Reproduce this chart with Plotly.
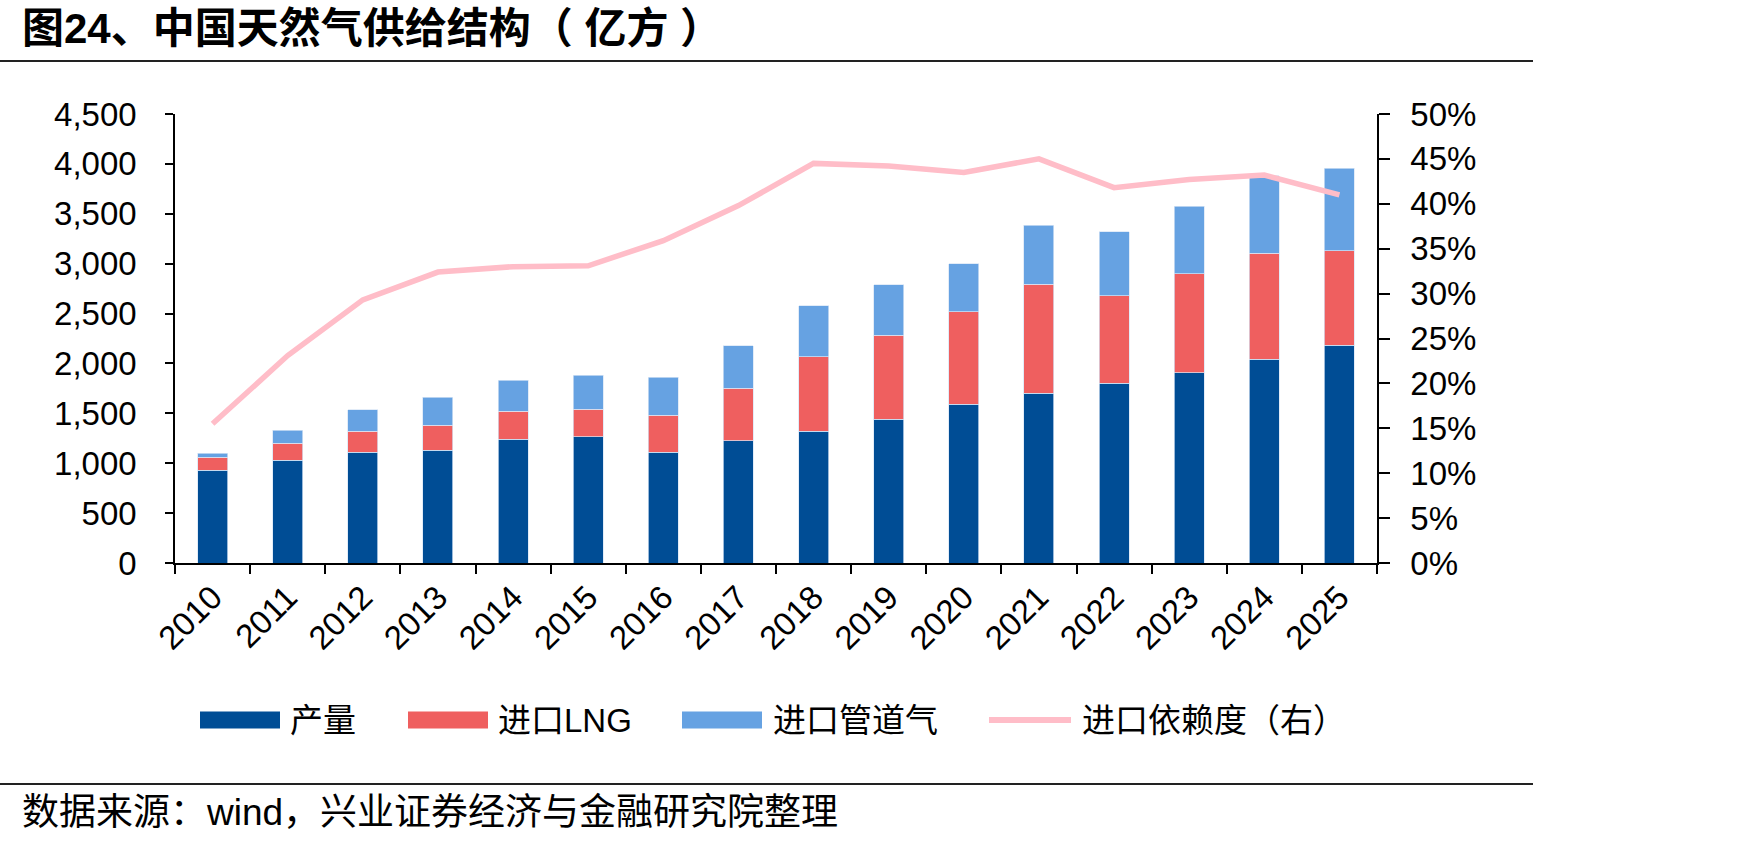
import plotly.graph_objects as go

years = ["2010", "2011", "2012", "2013", "2014", "2015", "2016", "2017",
         "2018", "2019", "2020", "2021", "2022", "2023", "2024", "2025"]
production = [928, 1028, 1108, 1128, 1239, 1265, 1108, 1225,
              1319, 1439, 1589, 1699, 1800, 1907, 2040, 2181]
lng_import = [130, 174, 211, 251, 280, 274, 371, 525,
              748, 842, 929, 1093, 881, 992, 1066, 951]
pipe_import = [44, 131, 217, 284, 314, 341, 384, 427,
               511, 508, 481, 591, 639, 674, 774, 822]
dependence = [0.155, 0.231, 0.293, 0.324, 0.330, 0.331, 0.359, 0.398,
              0.445, 0.442, 0.435, 0.450, 0.418, 0.427, 0.432, 0.410]

C_PROD = "#004D95"
C_LNG = "#EF5F5F"
C_PIPE = "#66A2E2"
C_LINE = "#FFBDC8"

W, H = 1748, 845
PL, PR, PT, PB = 175, 1377, 114, 563


def px(x):
    return (x - PL) / (PR - PL)


def py(y):
    return (PB - y) / (PB - PT)


LATIN_CJK = "Liberation Sans, Arial, Noto Sans CJK SC"

fig = go.Figure()
edge = dict(color="rgba(215,228,245,0.9)", width=0.8)
fig.add_trace(go.Bar(x=years, y=production, name="产量", marker=dict(color=C_PROD, line=edge)))
fig.add_trace(go.Bar(x=years, y=lng_import, name="进口LNG", marker=dict(color=C_LNG, line=edge)))
fig.add_trace(go.Bar(x=years, y=pipe_import, name="进口管道气", marker=dict(color=C_PIPE, line=edge)))
fig.add_trace(go.Scatter(x=years, y=dependence, name="进口依赖度（右）", yaxis="y2",
                         mode="lines", line=dict(color=C_LINE, width=5.5)))

axis_font = dict(family=LATIN_CJK, size=33, color="#000000")

fig.update_layout(
    width=W, height=H, autosize=False,
    margin=dict(l=PL, r=W - PR, t=PT, b=H - PB, pad=0),
    paper_bgcolor="white", plot_bgcolor="white",
    barmode="stack", bargap=0.6,
    showlegend=False,
    xaxis=dict(type="category", tickson="boundaries", ticks="outside", ticklen=9,
               tickwidth=1.5, tickcolor="black", showline=True, linecolor="black",
               linewidth=1.5, showgrid=False, zeroline=False, tickangle=-45,
               tickfont=dict(family=LATIN_CJK, size=33, color="black")),
    yaxis=dict(range=[0, 4500], dtick=500, tickformat=",", ticks="outside", ticklen=8,
               tickwidth=1.5, tickcolor="black", showline=True, linecolor="black",
               linewidth=1.5, showgrid=False, zeroline=False, tickfont=axis_font,
               ticklabelstandoff=22),
    yaxis2=dict(range=[0, 0.5], dtick=0.05, tickformat=".0%", overlaying="y", side="right",
                ticks="outside", ticklen=11, tickwidth=1.5, tickcolor="black",
                showline=True, linecolor="black", linewidth=1.5, showgrid=False,
                zeroline=False, tickfont=axis_font, ticklabelstandoff=14),
)

shapes = []
annotations = []
# title rule and bottom rule
shapes.append(dict(type="line", xref="paper", yref="paper", x0=px(0), x1=px(1533),
                   y0=py(61), y1=py(61), line=dict(color="#222222", width=2)))
shapes.append(dict(type="line", xref="paper", yref="paper", x0=px(0), x1=px(1533),
                   y0=py(784), y1=py(784), line=dict(color="#222222", width=2)))

annotations.append(dict(text="<b>图24、中国天然气供给结构（ 亿方 ）</b>", xref="paper", yref="paper",
                        x=px(20), y=py(28), xanchor="left", yanchor="middle", showarrow=False,
                        font=dict(family=LATIN_CJK, size=42, color="black")))
annotations.append(dict(text="数据来源：wind，兴业证券经济与金融研究院整理", xref="paper", yref="paper",
                        x=px(20), y=py(812), xanchor="left", yanchor="middle", showarrow=False,
                        font=dict(family=LATIN_CJK, size=37, color="black")))

# custom legend
leg_y = 720
for (x0, x1, color, label, tx) in [
    (200, 280, C_PROD, "产量", 288),
    (408, 488, C_LNG, "进口LNG", 496),
    (682, 762, C_PIPE, "进口管道气", 771),
]:
    shapes.append(dict(type="rect", xref="paper", yref="paper", x0=px(x0), x1=px(x1),
                       y0=py(leg_y - 8.5), y1=py(leg_y + 8.5), fillcolor=color,
                       line=dict(width=0)))
    annotations.append(dict(text=label, xref="paper", yref="paper", x=px(tx), y=py(leg_y),
                            xanchor="left", yanchor="middle", showarrow=False,
                            font=dict(family=LATIN_CJK, size=33, color="black")))
shapes.append(dict(type="line", xref="paper", yref="paper", x0=px(989), x1=px(1071),
                   y0=py(leg_y), y1=py(leg_y), line=dict(color=C_LINE, width=6)))
annotations.append(dict(text="进口依赖度（右）", xref="paper", yref="paper", x=px(1080), y=py(leg_y),
                        xanchor="left", yanchor="middle", showarrow=False,
                        font=dict(family=LATIN_CJK, size=33, color="black")))

fig.update_layout(shapes=shapes, annotations=annotations)
fig.write_html("out.html")
